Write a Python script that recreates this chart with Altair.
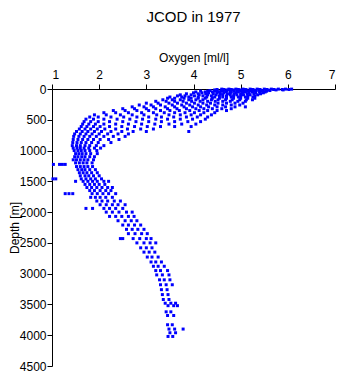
import altair as alt
import pandas as pd

depth_levels = [
    2, 8, 15, 25, 35, 48, 62, 78, 95, 112, 130,
    150, 175, 200, 230, 260, 290, 320, 350, 385, 420, 455, 490, 530, 570, 610, 650, 690,
    730, 770, 820, 870, 920, 960, 1000, 1050, 1100, 1150, 1200, 1225, 1260, 1310, 1360,
    1410, 1460, 1500, 1550, 1600, 1650, 1700, 1760, 1820, 1880, 1940, 2000, 2070, 2140,
    2210, 2280, 2350, 2430, 2500, 2580, 2650, 2730, 2810, 2880, 2950, 3020, 3100, 3180,
    3260, 3340, 3420, 3480, 3520, 3620, 3680, 3830, 3900, 3960, 4020,
]

oxygen_at_level = [
    [4.6, 4.75, 4.9, 5.05, 5.2, 5.35, 5.5, 5.65, 5.8, 5.95, 6.08],
    [4.5, 4.65, 4.8, 4.95, 5.1, 5.25, 5.4, 5.55, 5.7, 5.88, 6.02],
    [4.45, 4.6, 4.72, 4.85, 5.0, 5.12, 5.28, 5.42, 5.58, 5.75, 5.9],
    [4.35, 4.5, 4.62, 4.78, 4.92, 5.06, 5.2, 5.33, 5.48, 5.62],
    [4.15, 4.3, 4.45, 4.58, 4.7, 4.86, 5.0, 5.15, 5.3, 5.45, 5.55],
    [4.05, 4.25, 4.4, 4.55, 4.68, 4.8, 4.95, 5.1, 5.25, 5.4, 5.52],
    [4.0, 4.18, 4.32, 4.5, 4.64, 4.78, 4.9, 5.04, 5.18, 5.32, 5.48],
    [3.85, 4.1, 4.26, 4.42, 4.57, 4.72, 4.86, 5.0, 5.14, 5.28, 5.42],
    [3.72, 3.95, 4.12, 4.3, 4.48, 4.62, 4.78, 4.92, 5.06, 5.2, 5.36],
    [3.66, 3.82, 4.02, 4.2, 4.38, 4.55, 4.7, 4.85, 5.0, 5.15, 5.3],
    [3.5, 3.75, 3.9, 4.1, 4.28, 4.45, 4.62, 4.8, 4.95, 5.1, 5.26],
    [3.45, 3.6, 3.8, 3.95, 4.1, 4.25, 4.4, 4.55, 4.7, 4.85, 5.0, 5.15, 5.3],
    [3.35, 3.55, 3.72, 3.9, 4.05, 4.2, 4.38, 4.52, 4.68, 4.82, 4.98, 5.12, 5.25],
    [3.2, 3.42, 3.6, 3.78, 3.96, 4.14, 4.3, 4.46, 4.62, 4.78, 4.94, 5.1],
    [3.0, 3.25, 3.48, 3.66, 3.85, 4.02, 4.2, 4.36, 4.52, 4.7, 4.88, 5.05],
    [2.85, 3.1, 3.3, 3.55, 3.75, 3.92, 4.1, 4.28, 4.45, 4.62, 4.8, 4.98],
    [2.7, 2.95, 3.15, 3.4, 3.6, 3.8, 3.98, 4.15, 4.32, 4.5, 4.68, 4.88, 5.1],
    [2.5, 2.75, 3.0, 3.2, 3.45, 3.65, 3.85, 4.05, 4.22, 4.4, 4.6, 4.8],
    [2.3, 2.55, 2.8, 3.05, 3.3, 3.5, 3.7, 3.92, 4.12, 4.3, 4.5, 4.7],
    [2.1, 2.35, 2.62, 2.9, 3.15, 3.38, 3.6, 3.82, 4.02, 4.22, 4.45],
    [1.9, 2.15, 2.45, 2.7, 2.95, 3.22, 3.48, 3.72, 3.95, 4.15, 4.38],
    [1.8, 1.98, 2.25, 2.52, 2.8, 3.05, 3.32, 3.58, 3.85, 4.08, 4.3],
    [1.72, 1.88, 2.1, 2.38, 2.65, 2.92, 3.2, 3.45, 3.72, 3.98, 4.25],
    [1.68, 1.82, 1.98, 2.22, 2.5, 2.78, 3.05, 3.32, 3.6, 3.88, 4.15],
    [1.65, 1.78, 1.92, 2.1, 2.35, 2.62, 2.9, 3.18, 3.48, 3.75, 4.05],
    [1.62, 1.74, 1.88, 2.02, 2.22, 2.48, 2.75, 3.02, 3.3, 3.6, 3.95],
    [1.58, 1.7, 1.82, 1.96, 2.12, 2.35, 2.6, 2.88, 3.15],
    [1.52, 1.64, 1.76, 1.9, 2.05, 2.25, 2.48, 2.72, 3.0, 3.9],
    [1.48, 1.6, 1.72, 1.85, 2.0, 2.18, 2.4, 2.62],
    [1.46, 1.57, 1.68, 1.8, 1.94, 2.1, 2.3, 2.55],
    [1.45, 1.55, 1.65, 1.76, 1.88, 2.02, 2.2, 2.42],
    [1.44, 1.53, 1.62, 1.72, 1.84, 1.98, 2.25],
    [1.43, 1.52, 1.6, 1.7, 1.8, 1.94, 2.1],
    [1.45, 1.53, 1.6, 1.68, 1.78, 1.9, 2.03],
    [1.47, 1.55, 1.62, 1.7, 1.8, 1.95],
    [1.5, 1.57, 1.64, 1.72, 1.82, 1.96],
    [1.48, 1.55, 1.63, 1.7, 1.8, 1.9],
    [1.45, 1.52, 1.6, 1.68, 1.76, 1.88],
    [1.5, 1.58, 1.66, 1.74, 1.85],
    [1.03, 1.16, 1.22, 1.28],
    [1.52, 1.6, 1.68, 1.76, 1.86],
    [1.55, 1.63, 1.7, 1.8, 1.92],
    [1.58, 1.66, 1.74, 1.84, 1.96],
    [1.6, 1.7, 1.78, 1.88, 2.0],
    [1.02, 1.08, 1.62, 1.72, 1.82, 1.92, 2.05],
    [1.5, 1.66, 1.76, 1.86, 1.96, 2.1, 2.2],
    [1.7, 1.8, 1.9, 2.0, 2.12],
    [1.74, 1.84, 1.95, 2.06, 2.18, 2.28],
    [1.8, 1.9, 2.02, 2.14, 2.25],
    [1.28, 1.36, 1.44, 1.85, 1.96, 2.08, 2.2, 2.35],
    [1.82, 1.92, 2.02, 2.14, 2.28],
    [1.95, 2.06, 2.18, 2.32, 2.45],
    [2.02, 2.15, 2.28, 2.4, 2.55],
    [1.72, 1.86, 2.1, 2.22, 2.35, 2.5],
    [2.15, 2.28, 2.42, 2.58, 2.7],
    [2.22, 2.35, 2.48, 2.62, 2.74],
    [2.4, 2.55, 2.68, 2.8],
    [2.5, 2.62, 2.75, 2.88],
    [2.58, 2.7, 2.82, 2.95],
    [2.62, 2.76, 2.9, 3.02],
    [2.45, 2.5, 2.72, 2.86, 3.0, 3.1],
    [2.8, 2.95, 3.08, 3.2],
    [2.88, 3.0, 3.12],
    [2.95, 3.06, 3.18],
    [3.02, 3.12, 3.25],
    [3.1, 3.2, 3.32],
    [3.15, 3.25, 3.38],
    [3.2, 3.3, 3.45],
    [3.22, 3.34, 3.48],
    [3.28, 3.38, 3.5],
    [3.3, 3.42, 3.55],
    [3.32, 3.44],
    [3.34, 3.46],
    [3.36, 3.48],
    [3.4, 3.52, 3.62],
    [3.46, 3.58, 3.66],
    [3.42, 3.52],
    [3.45, 3.58],
    [3.45, 3.55],
    [3.48, 3.6, 3.78],
    [3.5, 3.62],
    [3.46, 3.56],
]

x_ticks = [1, 2, 3, 4, 5, 6, 7]
y_ticks = [0, 500, 1000, 1500, 2000, 2500, 3000, 3500, 4000, 4500]

records = []
for d, oxs in zip(depth_levels, oxygen_at_level):
    for o in oxs:
        records.append({"depth": d, "oxygen": o})
df = pd.DataFrame(records)

FONT = "Liberation Sans"

chart = (
    alt.Chart(df)
    .mark_square(size=9, color="#0000ff", opacity=1, strokeWidth=0)
    .encode(
        x=alt.X(
            "oxygen:Q",
            scale=alt.Scale(domain=[1, 7], nice=False, zero=False),
            axis=alt.Axis(orient="top", values=x_ticks, title="Oxygen [ml/l]",
                          labelFlush=True, labelOverlap=False, labelPadding=3,
                          titlePadding=4),
        ),
        y=alt.Y(
            "depth:Q",
            scale=alt.Scale(domain=[0, 4500], reverse=True, nice=False, zero=False),
            axis=alt.Axis(values=y_ticks, title="Depth [m]", labelPadding=1,
                          format="d", labelOverlap=False, titlePadding=-2),
        ),
    )
    .properties(
        width=283,
        height=277,
        padding={"left": 0, "top": 2, "right": 0, "bottom": 0},
        title=alt.TitleParams("JCOD in 1977", font=FONT, fontSize=15,
                              fontWeight="normal", color="black", offset=26,
                              anchor="middle"),
    )
    .configure_view(stroke=None)
    .configure_axis(
        grid=False, domainColor="black", tickColor="black", labelColor="black",
        titleColor="black", labelFont=FONT, titleFont=FONT, labelFontSize=12,
        titleFontSize=12, titleFontWeight="normal", tickSize=5, domainWidth=1,
        tickWidth=1,
    )
)

chart.save("out.html", embed_options={"renderer": "svg", "actions": False})
